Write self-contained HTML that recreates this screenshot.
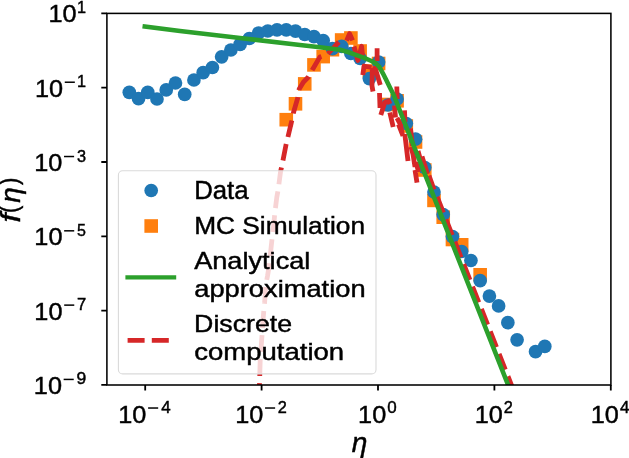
<!DOCTYPE html>
<html><head><meta charset="utf-8"><style>
html,body{margin:0;padding:0;background:#fff;}
body{width:629px;height:458px;overflow:hidden;}
svg{display:block;font-family:"Liberation Sans",sans-serif;will-change:transform;}
</style></head><body>
<svg width="629" height="458" viewBox="0 0 629 458">
<defs><clipPath id="ax"><rect x="106.9" y="13.4" width="504.0" height="371.6"/></clipPath></defs>
<rect width="629" height="458" fill="#fff"/>
<g clip-path="url(#ax)">
<rect x="279.46" y="112.9" width="13.6" height="13.6" fill="#ff7f0e"/>
<rect x="288.69" y="97" width="13.6" height="13.6" fill="#ff7f0e"/>
<rect x="297.93" y="77.1" width="13.6" height="13.6" fill="#ff7f0e"/>
<rect x="307.16" y="58.1" width="13.6" height="13.6" fill="#ff7f0e"/>
<rect x="316.39" y="49.8" width="13.6" height="13.6" fill="#ff7f0e"/>
<rect x="325.63" y="42.9" width="13.6" height="13.6" fill="#ff7f0e"/>
<rect x="334.86" y="33.2" width="13.6" height="13.6" fill="#ff7f0e"/>
<rect x="344.09" y="31.2" width="13.6" height="13.6" fill="#ff7f0e"/>
<rect x="353.32" y="44.2" width="13.6" height="13.6" fill="#ff7f0e"/>
<rect x="362.56" y="64.2" width="13.6" height="13.6" fill="#ff7f0e"/>
<rect x="371.79" y="56.7" width="13.6" height="13.6" fill="#ff7f0e"/>
<rect x="381.02" y="97.7" width="13.6" height="13.6" fill="#ff7f0e"/>
<rect x="390.26" y="94" width="13.6" height="13.6" fill="#ff7f0e"/>
<rect x="399.49" y="119.2" width="13.6" height="13.6" fill="#ff7f0e"/>
<rect x="408.72" y="135.2" width="13.6" height="13.6" fill="#ff7f0e"/>
<rect x="417.96" y="163.2" width="13.6" height="13.6" fill="#ff7f0e"/>
<rect x="427.19" y="193.6" width="13.6" height="13.6" fill="#ff7f0e"/>
<rect x="436.42" y="210.4" width="13.6" height="13.6" fill="#ff7f0e"/>
<rect x="445.66" y="232.7" width="13.6" height="13.6" fill="#ff7f0e"/>
<rect x="454.89" y="238" width="13.6" height="13.6" fill="#ff7f0e"/>
<rect x="473.35" y="268" width="13.6" height="13.6" fill="#ff7f0e"/>
<circle cx="129.3" cy="92.3" r="6.85" fill="#1f77b4"/>
<circle cx="138.53" cy="98.7" r="6.85" fill="#1f77b4"/>
<circle cx="147.77" cy="92.3" r="6.85" fill="#1f77b4"/>
<circle cx="157" cy="99" r="6.85" fill="#1f77b4"/>
<circle cx="166.23" cy="89.9" r="6.85" fill="#1f77b4"/>
<circle cx="175.47" cy="83" r="6.85" fill="#1f77b4"/>
<circle cx="184.7" cy="94.4" r="6.85" fill="#1f77b4"/>
<circle cx="193.93" cy="80" r="6.85" fill="#1f77b4"/>
<circle cx="203.16" cy="72.7" r="6.85" fill="#1f77b4"/>
<circle cx="212.4" cy="67.5" r="6.85" fill="#1f77b4"/>
<circle cx="221.63" cy="56.8" r="6.85" fill="#1f77b4"/>
<circle cx="230.86" cy="50" r="6.85" fill="#1f77b4"/>
<circle cx="240.1" cy="44.4" r="6.85" fill="#1f77b4"/>
<circle cx="249.33" cy="38.5" r="6.85" fill="#1f77b4"/>
<circle cx="258.56" cy="33" r="6.85" fill="#1f77b4"/>
<circle cx="267.8" cy="31" r="6.85" fill="#1f77b4"/>
<circle cx="277.03" cy="29.9" r="6.85" fill="#1f77b4"/>
<circle cx="286.26" cy="29.9" r="6.85" fill="#1f77b4"/>
<circle cx="295.49" cy="31.1" r="6.85" fill="#1f77b4"/>
<circle cx="304.73" cy="34.5" r="6.85" fill="#1f77b4"/>
<circle cx="313.96" cy="36.7" r="6.85" fill="#1f77b4"/>
<circle cx="323.19" cy="40.6" r="6.85" fill="#1f77b4"/>
<circle cx="332.43" cy="48.6" r="6.85" fill="#1f77b4"/>
<circle cx="341.66" cy="46.3" r="6.85" fill="#1f77b4"/>
<circle cx="350.89" cy="53.5" r="6.85" fill="#1f77b4"/>
<circle cx="360.12" cy="58.5" r="6.85" fill="#1f77b4"/>
<circle cx="369.36" cy="78.6" r="6.85" fill="#1f77b4"/>
<circle cx="378.59" cy="62" r="6.85" fill="#1f77b4"/>
<circle cx="387.82" cy="105" r="6.85" fill="#1f77b4"/>
<circle cx="397.06" cy="99" r="6.85" fill="#1f77b4"/>
<circle cx="406.29" cy="123.5" r="6.85" fill="#1f77b4"/>
<circle cx="415.52" cy="139.2" r="6.85" fill="#1f77b4"/>
<circle cx="424.76" cy="167.5" r="6.85" fill="#1f77b4"/>
<circle cx="433.99" cy="192" r="6.85" fill="#1f77b4"/>
<circle cx="443.22" cy="214.6" r="6.85" fill="#1f77b4"/>
<circle cx="452.46" cy="236.6" r="6.85" fill="#1f77b4"/>
<circle cx="461.69" cy="251.5" r="6.85" fill="#1f77b4"/>
<circle cx="470.92" cy="260.5" r="6.85" fill="#1f77b4"/>
<circle cx="480.15" cy="280.7" r="6.85" fill="#1f77b4"/>
<circle cx="489.39" cy="296.1" r="6.85" fill="#1f77b4"/>
<circle cx="498.62" cy="305.9" r="6.85" fill="#1f77b4"/>
<circle cx="507.85" cy="322.7" r="6.85" fill="#1f77b4"/>
<circle cx="517.09" cy="339.8" r="6.85" fill="#1f77b4"/>
<circle cx="535.55" cy="351.7" r="6.85" fill="#1f77b4"/>
<circle cx="544.79" cy="346.4" r="6.85" fill="#1f77b4"/>
<g fill="none" stroke="#d62728" stroke-width="4.8" stroke-dasharray="16.9 7.2" stroke-linejoin="round">
<path d="M338.8 42 L333 48.3 L327 54.7 L323.5 55.8 L319.8 57.1 L312.7 69.2 L308.4 77 L303.5 82 L299.2 89 L297.8 97.6 L293.5 112.5 L291.7 121 L287.9 137.1 L286.1 144.4 L282.6 162.3 L280.5 172 L278.3 189 L276.8 197.3 L274.7 214.1 L274 222.5 L272 239.3 L271.1 247.6 L269.2 265.6 L267.5 276 L265.9 284.4 L264.6 302.7 L263.8 310.5 L262.5 327.5 L262 335.4 L260.7 353.7 L260.2 360 L259.5 385 L259.2 395" stroke-dashoffset="0.9"/>
<path d="M346.6 40.6 L349.6 33.6 L352.6 40.4 M354 46.5 L357.9 60.5 L361.6 46.3 L362.6 56 M362.8 75 L364 66 L371.5 67.5 M372.3 68 L372 86 L373 91.5 M374.5 66 L380.3 85 M377.1 48.3 L377.1 61 M379.5 93 L380 108 M380.8 115 L384.7 102.7 L388.5 100.8 L390 104 M389.8 112.5 L393.2 127 M394.5 105.5 L395.5 117.5 M396.8 86.5 L397.2 99 M398.5 124.4 L403 135.8 M404.5 110.4 L405 122 M404.8 134 L408 161 M410.5 128.5 L412.5 146 M412 148 L415 167 M415 170 L417 182.6 M418 151 L423 168.7 M422 156.4 L427.5 174 M429 175.6 L434 189.6 M411 147 L414.5 160 M416 162 L418.5 172 M397 118 L400.5 124.5 M400.5 124 L402 133.7" stroke-dasharray="none"/>
<path d="M437.2 196.9 L517.32 400"/>
</g>
<path d="M144.8 26.6 L180 31 L240 38 L300 45 L320 47.3 L340 49.7 L347.9 52 L355.7 54.8 L363.6 57.7 L371.4 61 L376 63.6 L379.3 66.9 L382.6 72.8 L385.9 79.3 L389.8 87.2 L393.7 95 L514.02 400" fill="none" stroke="#2ca02c" stroke-width="4.6" stroke-linecap="square" stroke-linejoin="round"/>
</g>
<rect x="106.9" y="13.4" width="504" height="371.6" fill="none" stroke="#000" stroke-width="1.55"/>
<path d="M145.2 385.0v5.6 M261.6 385.0v5.6 M378 385.0v5.6 M494.4 385.0v5.6 M610.8 385.0v5.6 M106.9 13.4h-5.6 M106.9 87.7h-5.6 M106.9 162h-5.6 M106.9 236.3h-5.6 M106.9 310.6h-5.6 M106.9 384.9h-5.6" stroke="#000" stroke-width="1.8"/>
<rect x="118.4" y="170.8" width="257.6" height="203.1" rx="4.2" fill="#fff" fill-opacity="0.8" stroke="#dadada" stroke-width="1.1"/>
<circle cx="151.2" cy="190.5" r="6.85" fill="#1f77b4"/>
<rect x="144.4" y="219.2" width="13.6" height="13.6" fill="#ff7f0e"/>
<path d="M127.6 277.4H174" stroke="#2ca02c" stroke-width="4.4" stroke-linecap="square"/>
<path d="M127.6 340.3H174" stroke="#d62728" stroke-width="4.8" stroke-dasharray="17 7.2"/>
<g fill="#000" stroke="#000" stroke-width="0.45">
<text transform="translate(194.2 198.8) scale(1.0305 1.0000)" font-size="25.01">Data</text>
<text transform="translate(194.16 233.9) scale(1.0627 1.0000)" font-size="24.74">MC Simulation</text>
<text transform="translate(194.13 269.2) scale(1.0981 1.0000)" font-size="24.74">Analytical</text>
<text transform="translate(194.27 296.8) scale(1.1027 1.0000)" font-size="24.74">approximation</text>
<text transform="translate(194.12 332) scale(1.0805 1.0000)" font-size="24.74">Discrete</text>
<text transform="translate(194.14 359.7) scale(1.1135 1.0000)" font-size="24.74">computation</text>
</g>
<g fill="#000" stroke="#000" stroke-width="0.45">
<text transform="translate(118.27 422.5) scale(1.0341 1.0000)" font-size="24.45">10</text>
<rect x="148.1" y="407.28" width="10.08" height="1.49" stroke="none"/>
<text transform="translate(161.27 413) scale(0.9943 1.0000)" font-size="17.06">4</text>
<text transform="translate(235.22 422.5) scale(1.0341 1.0000)" font-size="24.45">10</text>
<rect x="265.05" y="407.28" width="10.08" height="1.49" stroke="none"/>
<text transform="translate(277.79 413) scale(0.9551 1.0000)" font-size="17.11">2</text>
<text transform="translate(358.07 422.5) scale(1.0341 1.0000)" font-size="24.45">10</text>
<text transform="translate(387.23 413) scale(0.9919 1.0000)" font-size="17.11">0</text>
<text transform="translate(474.8 422.5) scale(1.0341 1.0000)" font-size="24.45">10</text>
<text transform="translate(503.81 413) scale(0.9551 1.0000)" font-size="17.11">2</text>
<text transform="translate(590.65 422.5) scale(1.0341 1.0000)" font-size="24.45">10</text>
<text transform="translate(620.09 413) scale(0.9943 1.0000)" font-size="17.06">4</text>
<text transform="translate(48.48 22.4) scale(1.0341 1.0000)" font-size="24.45">10</text>
<text transform="translate(77.08 12.9) scale(0.9503 1.0000)" font-size="17.06">1</text>
<text transform="translate(34.93 96.7) scale(1.0341 1.0000)" font-size="24.45">10</text>
<rect x="64.76" y="81.48" width="10.08" height="1.49" stroke="none"/>
<text transform="translate(77.08 87.2) scale(0.9503 1.0000)" font-size="17.06">1</text>
<text transform="translate(34.19 171) scale(1.0341 1.0000)" font-size="24.45">10</text>
<rect x="64.02" y="155.78" width="10.08" height="1.49" stroke="none"/>
<text transform="translate(76.95 161.5) scale(0.9526 1.0000)" font-size="17.11">3</text>
<text transform="translate(34.32 245.3) scale(1.0341 1.0000)" font-size="24.45">10</text>
<rect x="64.14" y="230.08" width="10.08" height="1.49" stroke="none"/>
<text transform="translate(77.06 235.8) scale(0.9398 1.0000)" font-size="17.06">5</text>
<text transform="translate(34.36 319.6) scale(1.0341 1.0000)" font-size="24.45">10</text>
<rect x="64.19" y="304.38" width="10.08" height="1.49" stroke="none"/>
<text transform="translate(76.9 310.1) scale(0.9728 1.0000)" font-size="17.06">7</text>
<text transform="translate(33.82 393.9) scale(1.0341 1.0000)" font-size="24.45">10</text>
<rect x="63.65" y="378.68" width="10.08" height="1.49" stroke="none"/>
<text transform="translate(76.38 384.4) scale(1.0242 1.0000)" font-size="17.11">9</text>
<text transform="translate(351.82 452) scale(1.0307 1.0000)" font-size="27.27" font-style="italic">η</text>
<g transform="translate(20.2 201.0) rotate(-90)">
<text transform="translate(-21.46 0) scale(1.1852 1.0000)" font-size="27.46" font-style="italic">f</text>
<text transform="translate(-12.03 -1.73) scale(0.8074 0.9132)" font-size="27.43">(</text>
<text transform="translate(-1.68 0) scale(1.0307 1.0000)" font-size="27.27" font-style="italic">η</text>
<text transform="translate(15.88 -1.73) scale(0.8074 0.9132)" font-size="27.43">)</text>
</g>
</g>
</svg>
</body></html>
